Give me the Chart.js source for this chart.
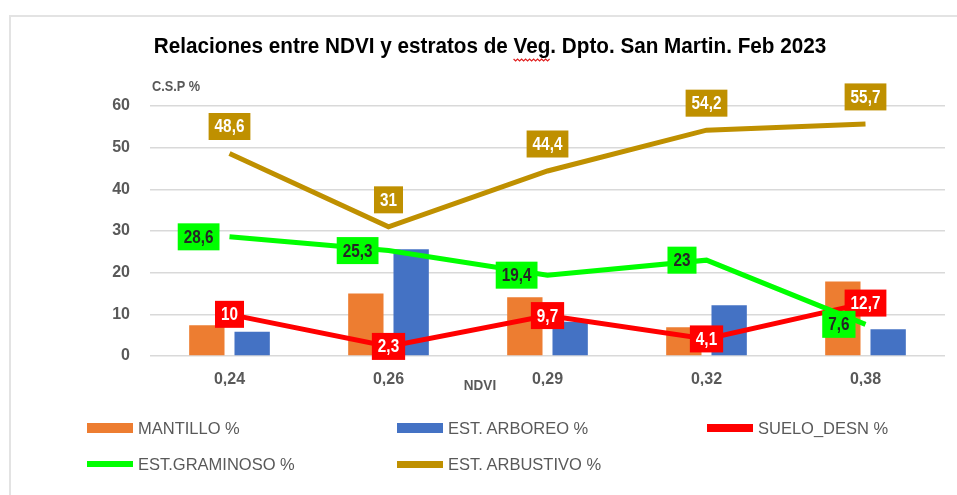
<!DOCTYPE html>
<html>
<head>
<meta charset="utf-8">
<script src="https://cdn.jsdelivr.net/npm/chart.js@4.4.1/dist/chart.umd.min.js"></script>
<style>
  html, body { margin: 0; padding: 0; background: #fff; }
  #wrap { position: relative; width: 957px; height: 495px; overflow: hidden; }
  #frame { position: absolute; left: 9px; top: 15px; width: 1000px; height: 600px; border: 2px solid #e3e3e3; box-sizing: border-box; }
  #chart { position: absolute; left: 0; top: 0; }
  .leg { position: absolute; display: flex; align-items: center; font-family: 'Liberation Sans', Arial, sans-serif; font-size: 16.5px; color: #595959; white-space: nowrap; }
  .leg i { display: inline-block; width: 46px; margin-right: 5px; }
</style>
</head>
<body>
<div id="wrap">
  <div id="frame"></div>
  <canvas id="chart" width="957" height="495"></canvas>
  <div id="legend"></div>
</div>
<script>
// categorias (NDVI) y valores por estrato
const ndvi = ["0,24", "0,26", "0,29", "0,32", "0,38"]
const mantillo = [7.4, 15.0, 14.1, 6.9, 17.9]
const arboreo = [5.8, 25.6, 8.2, 12.2, 6.4]
const sueloDesn = [10, 2.3, 9.7, 4.1, 12.7]
const graminoso = [28.6, 25.3, 19.4, 23, 7.6]
const arbustivo = [48.6, 31, 44.4, 54.2, 55.7]
const yTicks = [0, 10, 20, 30, 40, 50, 60]

const FONT = "'Liberation Sans', Arial, sans-serif"
const GRAY = "#595959"
const TITLE = "Relaciones entre NDVI y estratos de Veg. Dpto. San Martin. Feb 2023"

// etiquetas de valor: relleno, color de texto y posicion respecto al punto
const labelStyle = {
  "SUELO_DESN %": { bg: "#ff0000", fg: "#ffffff", pos: "center" },
  "EST.GRAMINOSO %": { bg: "#00ff00", fg: "#262626", pos: "left" },
  "EST. ARBUSTIVO %": { bg: "#bf9000", fg: "#ffffff", pos: "above" },
}

const fmt = (v) => String(v).replace(".", ",")

// texto comprimido en horizontal (fuente angosta)
function narrowText(ctx, txt, x, y, sx) {
  ctx.save()
  ctx.translate(x, y)
  ctx.scale(sx, 1)
  ctx.fillText(txt, 0, 0)
  ctx.restore()
}

const textPlugin = {
  id: "textos",
  afterDatasetsDraw(chart) {
    const ctx = chart.ctx
    ctx.save()
    // cajas con los valores de las lineas
    chart.data.datasets.forEach((ds, di) => {
      const st = labelStyle[ds.label]
      if (!st) return
      const meta = chart.getDatasetMeta(di)
      ctx.font = "bold 18px " + FONT
      ctx.textAlign = "center"
      ctx.textBaseline = "middle"
      meta.data.forEach((pt, i) => {
        const txt = fmt(ds.data[i])
        const w = ctx.measureText(txt).width * 0.85 + 12
        const h = 27
        let cx = pt.x, cy = pt.y
        if (st.pos === "left") cx = pt.x - 10 - w / 2
        if (st.pos === "above") cy = pt.y - 27
        ctx.fillStyle = st.bg
        ctx.fillRect(cx - w / 2, cy - h / 2, w, h)
        ctx.fillStyle = st.fg
        narrowText(ctx, txt, cx, cy + 1, 0.85)
      })
    })
    // titulo
    ctx.fillStyle = "#000"
    ctx.font = "bold 22px " + FONT
    ctx.textAlign = "left"
    ctx.textBaseline = "middle"
    const sx = 0.94
    const tw = ctx.measureText(TITLE).width * sx
    const tx = 490 - tw / 2
    narrowText(ctx, TITLE, tx, 47, sx)
    // subrayado ondulado bajo "Veg"
    const pre = ctx.measureText("Relaciones entre NDVI y estratos de ").width * sx
    const vw = ctx.measureText("Veg").width * sx
    ctx.strokeStyle = "#e02020"
    ctx.lineWidth = 1.2
    ctx.beginPath()
    for (let px = 0; px <= vw; px += 2) {
      const py = 59 + ((px / 2) % 2 === 0 ? 0 : 2)
      if (px === 0) ctx.moveTo(tx + pre + px, py)
      else ctx.lineTo(tx + pre + px, py)
    }
    ctx.stroke()
    // titulos de ejes
    ctx.fillStyle = GRAY
    ctx.font = "bold 15px " + FONT
    ctx.textAlign = "left"
    narrowText(ctx, "C.S.P %", 152, 87, 0.85)
    ctx.textAlign = "center"
    narrowText(ctx, "NDVI", 480, 386, 0.9)
    ctx.restore()
  },
}

new Chart(document.getElementById("chart"), {
  type: "bar",
  data: {
    labels: ndvi,
    datasets: [
      { type: "bar", label: "MANTILLO %", data: mantillo, backgroundColor: "#ed7d31", order: 4 },
      { type: "bar", label: "EST. ARBOREO %", data: arboreo, backgroundColor: "#4472c4", order: 5 },
      { type: "line", label: "SUELO_DESN %", data: sueloDesn, borderColor: "#ff0000", borderWidth: 5, pointRadius: 0, tension: 0, order: 3 },
      { type: "line", label: "EST.GRAMINOSO %", data: graminoso, borderColor: "#00ff00", borderWidth: 5, pointRadius: 0, tension: 0, order: 2 },
      { type: "line", label: "EST. ARBUSTIVO %", data: arbustivo, borderColor: "#bf9000", borderWidth: 5, pointRadius: 0, tension: 0, order: 1 },
    ],
  },
  options: {
    responsive: false,
    animation: false,
    events: [],
    categoryPercentage: 0.57,
    barPercentage: 0.78,
    layout: { padding: { top: 106, right: 12, bottom: 109, left: 0 } },
    plugins: { legend: { display: false }, title: { display: false }, tooltip: { enabled: false } },
    scales: {
      x: {
        grid: { display: false },
        border: { display: false },
        ticks: { color: GRAY, font: { family: FONT, size: 16, weight: "bold" }, padding: 6 },
        afterFit: (s) => { s.height = 30 },
      },
      y: {
        min: yTicks[0],
        max: yTicks[yTicks.length - 1],
        afterBuildTicks: (s) => { s.ticks = yTicks.map((v) => ({ value: v })) },
        grid: { color: "#d9d9d9", lineWidth: 1.5, drawTicks: false },
        border: { display: false },
        ticks: { color: GRAY, font: { family: FONT, size: 16, weight: "bold" }, padding: 20 },
        afterFit: (s) => { s.width = 150 },
      },
    },
  },
  plugins: [textPlugin],
})

// leyenda en tres columnas
const legendItems = [
  { text: "MANTILLO %", color: "#ed7d31", h: 10, x: 87, y: 428 },
  { text: "EST. ARBOREO %", color: "#4472c4", h: 10, x: 397, y: 428 },
  { text: "SUELO_DESN %", color: "#ff0000", h: 8, x: 707, y: 428 },
  { text: "EST.GRAMINOSO %", color: "#00ff00", h: 6, x: 87, y: 464 },
  { text: "EST. ARBUSTIVO %", color: "#bf9000", h: 7, x: 397, y: 464 },
]
const legendEl = document.getElementById("legend")
legendItems.forEach((it) => {
  const d = document.createElement("div")
  d.className = "leg"
  d.style.left = it.x + "px"
  d.style.top = (it.y - 10) + "px"
  d.style.height = "20px"
  d.innerHTML = '<i style="background:' + it.color + ';height:' + it.h + 'px"></i><span>' + it.text + "</span>"
  legendEl.appendChild(d)
})
</script>
</body>
</html>
